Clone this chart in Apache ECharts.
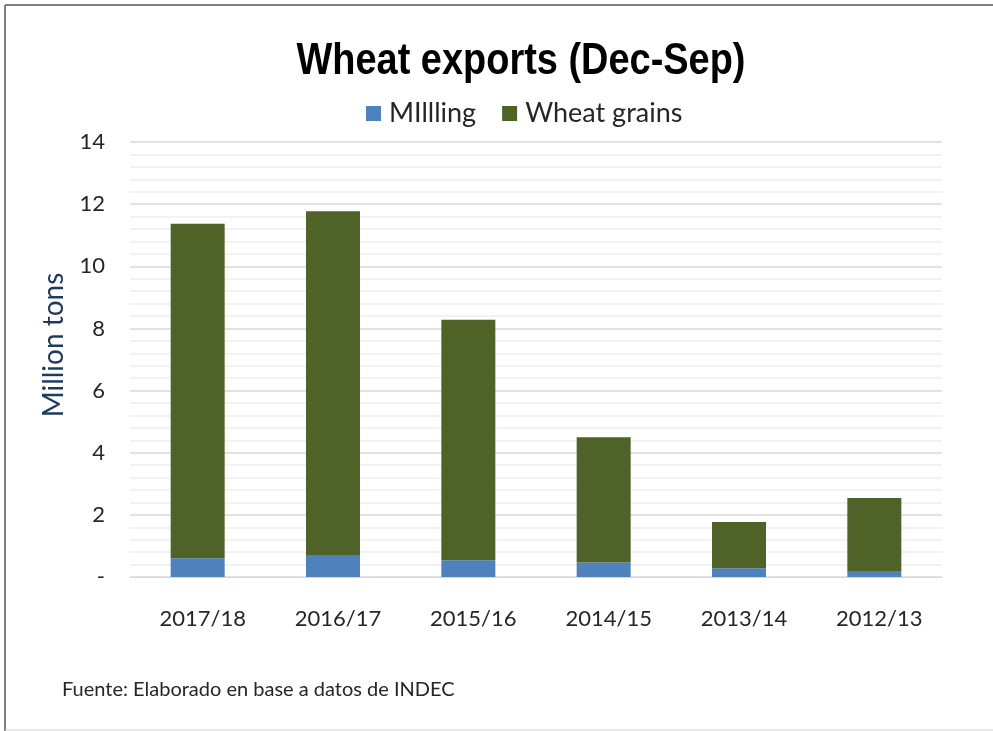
<!DOCTYPE html>
<html>
<head>
<meta charset="utf-8">
<script src="https://cdn.jsdelivr.net/npm/echarts@6/dist/echarts.min.js"></script>
<style>
html,body{margin:0;padding:0;background:#fff;}
#chart{width:993px;height:731px;}
</style>
</head>
<body>
<div id="chart"></div>
<script>
var categories = ['2017/18', '2016/17', '2015/16', '2014/15', '2013/14', '2012/13'];
var milling = [0.60, 0.68, 0.54, 0.47, 0.28, 0.19];
var wheatGrains = [10.77, 11.09, 7.74, 4.03, 1.49, 2.35];
var yTicks = [0, 2, 4, 6, 8, 10, 12, 14];
var titleText = 'Wheat exports (Dec-Sep)';
var yName = 'Million tons';
var sourceText = 'Fuente: Elaborado en base a datos de INDEC';

var chart = echarts.init(document.getElementById('chart'), null, {renderer: 'canvas'});
var option = {
  animation: false,
  backgroundColor: '#ffffff',
  legend: {
    top: 95,
    left: 361,
    itemWidth: 15,
    itemHeight: 15,
    itemGap: 26,
    icon: 'rect',
    textStyle: {
      fontFamily: 'Lato',
      fontSize: 27,
      color: '#262626',
      padding: [0, 0, 0, 3]
    },
    data: ['MIllling', 'Wheat grains']
  },
  grid: {
    left: 130,
    right: 51,
    top: 142,
    bottom: 154,
    containLabel: false
  },
  xAxis: {
    type: 'category',
    data: categories,
    axisLine: {show: true, lineStyle: {color: '#d9d9d9', width: 1}},
    axisTick: {show: false},
    axisLabel: {
      fontFamily: 'Lato',
      fontSize: 22,
      color: '#262626',
      margin: 31,
      padding: [0, 0, 0, 10]
    }
  },
  yAxis: {
    type: 'value',
    min: 0,
    max: 14,
    interval: 2,
    axisLine: {show: false},
    axisTick: {show: false},
    axisLabel: {
      fontFamily: 'Lato',
      fontSize: 22,
      color: '#262626',
      margin: 25,
      formatter: function (v) { return v === 0 ? '-' : String(v); }
    },
    splitLine: {show: true, lineStyle: {color: '#d9d9d9', width: 1.5}},
    minorTick: {show: false, splitNumber: 5},
    minorSplitLine: {show: true, lineStyle: {color: '#eeeeee', width: 1.5}}
  },
  series: [
    {
      name: 'MIllling',
      type: 'bar',
      stack: 'total',
      barWidth: 54,
      data: milling,
      itemStyle: {color: '#4f81bd'}
    },
    {
      name: 'Wheat grains',
      type: 'bar',
      stack: 'total',
      barWidth: 54,
      data: wheatGrains,
      itemStyle: {color: '#4f6228'}
    }
  ],
  graphic: [
    {
      type: 'text',
      x: 521,
      y: 62,
      scaleX: 0.843,
      style: {
        text: titleText,
        fontFamily: 'Liberation Sans',
        fontWeight: 'bold',
        fontSize: 45,
        fill: '#000000',
        align: 'center',
        verticalAlign: 'middle'
      }
    },
    {
      type: 'text',
      x: 54,
      y: 345,
      rotation: Math.PI / 2,
      style: {
        text: yName,
        fontFamily: 'Lato',
        fontSize: 28,
        fill: '#1f3a5f',
        align: 'center',
        verticalAlign: 'middle'
      }
    },
    {
      type: 'text',
      left: 62,
      top: 680,
      style: {
        text: sourceText,
        fontFamily: 'Lato',
        fontSize: 20,
        fill: '#262626'
      }
    },
    {
      type: 'line',
      shape: {x1: 5, y1: 5, x2: 993, y2: 5},
      style: {stroke: '#7f7f7f', lineWidth: 2}
    },
    {
      type: 'line',
      shape: {x1: 5, y1: 5, x2: 5, y2: 731},
      style: {stroke: '#7f7f7f', lineWidth: 2}
    },
    {
      type: 'line',
      shape: {x1: 5, y1: 730, x2: 993, y2: 730},
      style: {stroke: '#d0d0d0', lineWidth: 1}
    }
  ]
};
chart.setOption(option);
</script>
</body>
</html>
